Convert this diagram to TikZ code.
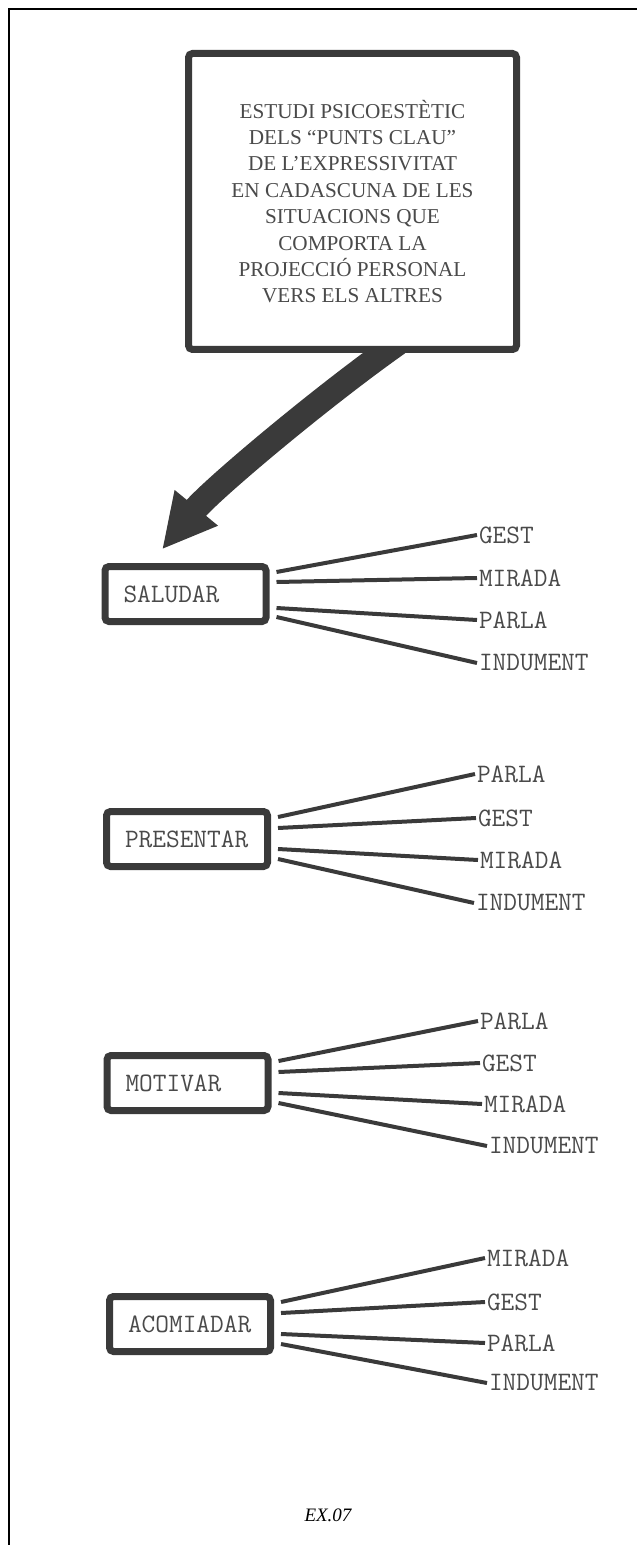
\documentclass[tikz,border=0pt]{standalone}
\usepackage{fontspec}
\setmainfont{Liberation Serif}
\usetikzlibrary{arrows.meta,calc,backgrounds}
\definecolor{tinta}{HTML}{3A3A3A}
\definecolor{tintal}{HTML}{4A4A4A}
\tikzset{
  marc/.style={black,line width=1pt},
  caixa/.style={draw=tinta,line width=3.5pt,rounded corners=2pt,fill=white},
  situacio/.style={caixa,anchor=west,text width=62pt,align=left,inner xsep=9.25pt,inner ysep=0pt,minimum height=27.5pt,font=\ttfamily\fontsize{13.3}{15}\selectfont,text=tintal},
  punt/.style={anchor=west,inner sep=1pt,outer sep=0pt,font=\ttfamily\fontsize{13.3}{15}\selectfont,text=tintal},
  fil/.style={tinta,line width=2pt},
  fletxa/.style={-{Triangle[length=27pt,width=26pt]},tinta,line width=12.5pt},
}

\begin{document}
\begin{tikzpicture}[x=0.5pt,y=-0.5pt]
  \useasboundingbox (0,0) rectangle (637,1545);
  \draw[marc] (9,1545) -- (9,9) -- (637,9);

  \node[caixa,minimum width=164pt,minimum height=148pt,align=center,inner sep=0pt,
        font=\fontsize{10.6}{13.2}\selectfont,text=tintal] (estudi) at (352.5,201.5)
    {ESTUDI PSICOESTÈTIC\\DELS “PUNTS CLAU”\\DE L’EXPRESSIVITAT\\EN CADASCUNA DE LES\\
     SITUACIONS QUE\\COMPORTA LA\\PROJECCIÓ PERSONAL\\VERS ELS ALTRES};

  % situacions
  \node[situacio] (sal) at (101.5,594) {SALUDAR};
  \node[situacio] (pre) at (103,839) {PRESENTAR};
  \node[situacio] (mot) at (103.5,1083) {MOTIVAR};
  \node[situacio] (aco) at (106,1324) {ACOMIADAR};

  \begin{scope}[on background layer]
    \draw[fletxa] ($(estudi.south)+(45.5,-10)$) .. controls (320,398) and (211,490) .. ($(sal.north west)+(60.5,-13.5)$);
  \end{scope}

  % punts clau
  \node[punt] (sal1) at (477,535) {GEST};
  \node[punt] (sal2) at (477,578) {MIRADA};
  \node[punt] (sal3) at (477,620) {PARLA};
  \node[punt] (sal4) at (477,663) {INDUMENT};

  \node[punt] (pre1) at (475,774) {PARLA};
  \node[punt] (pre2) at (476,818) {GEST};
  \node[punt] (pre3) at (478,860) {MIRADA};
  \node[punt] (pre4) at (474,903) {INDUMENT};

  \node[punt] (mot1) at (478,1021) {PARLA};
  \node[punt] (mot2) at (480,1063) {GEST};
  \node[punt] (mot3) at (482,1104) {MIRADA};
  \node[punt] (mot4) at (487,1146) {INDUMENT};

  \node[punt] (aco1) at (485,1258) {MIRADA};
  \node[punt] (aco2) at (485,1302) {GEST};
  \node[punt] (aco3) at (485,1343) {PARLA};
  \node[punt] (aco4) at (487,1383) {INDUMENT};

  \draw[fil] ($(sal.east)+(7,-22)$) -- (sal1.west);
  \draw[fil] ($(sal.east)+(7,-12)$) -- (sal2.west);
  \draw[fil] ($(sal.east)+(7,14)$) -- (sal3.west);
  \draw[fil] ($(sal.east)+(7,23)$) -- (sal4.west);

  \draw[fil] ($(pre.east)+(7,-22)$) -- (pre1.west);
  \draw[fil] ($(pre.east)+(7,-11)$) -- (pre2.west);
  \draw[fil] ($(pre.east)+(7,10)$) -- (pre3.west);
  \draw[fil] ($(pre.east)+(7,20)$) -- (pre4.west);

  \draw[fil] ($(mot.east)+(7,-22)$) -- (mot1.west);
  \draw[fil] ($(mot.east)+(7,-11)$) -- (mot2.west);
  \draw[fil] ($(mot.east)+(7,10)$) -- (mot3.west);
  \draw[fil] ($(mot.east)+(7,20)$) -- (mot4.west);

  \draw[fil] ($(aco.east)+(7,-22)$) -- (aco1.west);
  \draw[fil] ($(aco.east)+(7,-11)$) -- (aco2.west);
  \draw[fil] ($(aco.east)+(7,10)$) -- (aco3.west);
  \draw[fil] ($(aco.east)+(7,20)$) -- (aco4.west);

  \node[font=\itshape\fontsize{9.5}{11}\selectfont] (ex) at (328,1515) {EX.07};
\end{tikzpicture}
\end{document}
